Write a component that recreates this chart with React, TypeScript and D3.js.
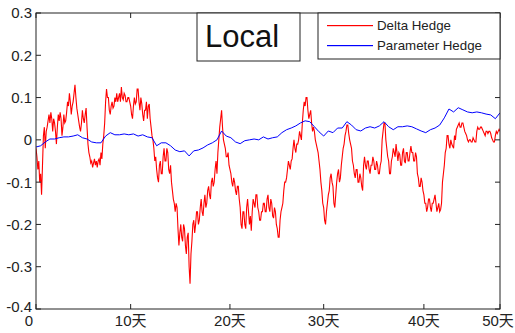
import React from 'react';
import * as d3 from 'd3';

// Hedging error of the delta hedge, one sample every 0.1 position units
const deltaHedge: number[] = [
  -0.02, -0.04, -0.07, -0.05, -0.1, -0.08, -0.13, -0.06, 0.01, 0.03,
  -0.02, 0.02, 0.03, 0.045, 0.06, 0.04, 0.065, 0.05, 0.02, 0.05,
  0.04, 0.02, -0.01, 0.03, 0.06, 0.045, 0.065, 0.05, 0.01, 0.03,
  0.06, 0.04, 0.045, 0.065, 0.09, 0.08, 0.11, 0.09, 0.06, 0.08,
  0.09, 0.11, 0.13, 0.1, 0.075, 0.06, 0.045, 0.03, 0.02, 0.04,
  0.07, 0.05, 0.04, 0.06, 0.075, 0.03, -0.01, -0.03, -0.04, -0.055,
  -0.05, -0.065, -0.055, -0.045, -0.06, -0.05, -0.065, -0.05, -0.045, -0.06,
  -0.03, -0.045, -0.01, 0.01, 0.04, 0.09, 0.12, 0.1, 0.1, 0.07,
  0.06, 0.08, 0.09, 0.075, 0.08, 0.1, 0.09, 0.11, 0.09, 0.1,
  0.11, 0.09, 0.125, 0.1, 0.095, 0.11, 0.105, 0.09, 0.09, 0.1,
  0.1, 0.09, 0.08, 0.06, 0.05, 0.08, 0.1, 0.085, 0.09, 0.12,
  0.12, 0.09, 0.07, 0.1, 0.085, 0.06, 0.045, 0.07, 0.07, 0.09,
  0.05, 0.08, 0.085, 0.05, 0.03, 0.01, 0.0, -0.02, -0.05, -0.04,
  -0.07, -0.09, -0.1, -0.06, -0.05, -0.08, -0.08, -0.04, -0.02, -0.05,
  -0.05, -0.02, -0.03, -0.07, -0.08, -0.06, -0.1, -0.12, -0.14, -0.15,
  -0.17, -0.15, -0.16, -0.21, -0.25, -0.22, -0.2, -0.23, -0.24, -0.2,
  -0.21, -0.25, -0.27, -0.23, -0.22, -0.3, -0.34, -0.27, -0.24, -0.2,
  -0.19, -0.22, -0.2, -0.17, -0.17, -0.2, -0.19, -0.16, -0.14, -0.17,
  -0.18, -0.15, -0.13, -0.16, -0.15, -0.12, -0.11, -0.13, -0.14, -0.1,
  -0.09, -0.11, -0.1, -0.07, -0.05, -0.08, -0.03, 0.0, 0.03, 0.05,
  0.07, 0.03, 0.0, -0.01, -0.02, -0.04, -0.04, -0.03, -0.06, -0.07,
  -0.08, -0.1, -0.11, -0.09, -0.1, -0.12, -0.13, -0.11, -0.11, -0.14,
  -0.16, -0.2, -0.21, -0.17, -0.17, -0.2, -0.21, -0.16, -0.14, -0.17,
  -0.2, -0.18, -0.215, -0.17, -0.14, -0.15, -0.16, -0.13, -0.13, -0.16,
  -0.17, -0.19, -0.19, -0.17, -0.17, -0.15, -0.15, -0.17, -0.17, -0.14,
  -0.13, -0.16, -0.17, -0.14, -0.15, -0.18, -0.185, -0.16, -0.17, -0.2,
  -0.21, -0.23, -0.23, -0.19, -0.17, -0.16, -0.15, -0.12, -0.1, -0.1,
  -0.09, -0.07, -0.05, -0.06, -0.07, -0.05, -0.045, -0.02, 0.0, -0.02,
  -0.03, -0.01, -0.01, 0.0, 0.02, 0.01, 0.0, 0.04, 0.07, 0.09,
  0.08, 0.1, 0.1, 0.07, 0.05, 0.06, 0.07, 0.04, 0.02, 0.03,
  0.02, 0.0, -0.01, -0.02, -0.03, -0.05, -0.07, -0.1, -0.12, -0.15,
  -0.16, -0.19, -0.2, -0.17, -0.15, -0.13, -0.12, -0.09, -0.08, -0.1,
  -0.11, -0.15, -0.16, -0.13, -0.1, -0.08, -0.07, -0.1, -0.09, -0.06,
  -0.04, -0.02, -0.01, 0.01, 0.02, 0.035, 0.035, 0.015, 0.0, -0.01,
  -0.02, -0.05, -0.06, -0.08, -0.09, -0.07, -0.07, -0.1, -0.1, -0.08,
  -0.09, -0.11, -0.12, -0.06, -0.04, -0.06, -0.07, -0.05, -0.05, -0.07,
  -0.08, -0.06, -0.06, -0.04, -0.05, -0.07, -0.07, -0.05, -0.06, -0.08,
  -0.08, -0.06, -0.05, 0.0, 0.02, 0.04, 0.04, 0.0, -0.02, -0.04,
  -0.05, -0.08, -0.08, -0.05, -0.04, -0.02, -0.03, -0.04, -0.01, -0.03,
  -0.05, -0.03, -0.035, -0.06, -0.06, -0.03, -0.02, -0.05, -0.055, -0.03,
  -0.03, -0.05, -0.05, -0.03, -0.015, -0.03, -0.03, -0.05, -0.05, -0.03,
  -0.04, -0.08, -0.09, -0.11, -0.11, -0.09, -0.1, -0.12, -0.13, -0.15,
  -0.15, -0.17, -0.16, -0.14, -0.14, -0.16, -0.17, -0.15, -0.15, -0.14,
  -0.13, -0.15, -0.17, -0.16, -0.15, -0.17, -0.165, -0.15, -0.1, -0.08,
  -0.06, -0.03, -0.02, 0.01, 0.01, -0.01, -0.02, 0.0, -0.01, -0.015,
  -0.02, 0.01, 0.0, 0.025, 0.03, 0.035, 0.04, 0.03, 0.03, 0.04,
  0.04, 0.03, 0.02, 0.015, 0.01, 0.0, -0.005, 0.0, 0.0, -0.005,
  -0.005, 0.005, 0.0, -0.005, -0.005, 0.02, 0.03, 0.025, 0.025, 0.03,
  0.03, 0.025, 0.02, 0.015, 0.01, 0.02, 0.02, 0.015, 0.02, 0.02,
  0.015, 0.005, 0.0, -0.005, -0.005, 0.01, 0.02, 0.015, 0.02, 0.025,
  0.02,
];
const deltaStep = 0.1;

// Hedging error of the parameter hedge, one sample every 0.5 position units
const parameterHedge: number[] = [
  -0.017, -0.014, -0.005, 0.002, 0.002, 0.005, 0.007, 0.007, 0.009, 0.012,
  0.005, 0.002, -0.005, -0.007, -0.007, 0.009, 0.017, 0.012, 0.012, 0.014,
  0.012, 0.014, 0.009, 0.012, 0.007, 0.005, -0.014, -0.007, -0.007, -0.014,
  -0.024, -0.028, -0.026, -0.038, -0.026, -0.024, -0.019, -0.012, -0.007, 0.0,
  0.021, 0.009, 0.005, -0.005, -0.009, -0.002, 0.0, 0.002, 0.0, 0.007,
  0.002, 0.005, 0.007, 0.017, 0.024, 0.028, 0.033, 0.04, 0.045, 0.043,
  0.031, 0.019, 0.009, 0.021, 0.017, 0.028, 0.028, 0.043, 0.035, 0.024,
  0.021, 0.028, 0.031, 0.028, 0.033, 0.043, 0.031, 0.024, 0.031, 0.031,
  0.033, 0.031, 0.026, 0.021, 0.017, 0.024, 0.028, 0.035, 0.052, 0.073,
  0.066, 0.076, 0.071, 0.066, 0.064, 0.066, 0.064, 0.061, 0.059, 0.05,
  0.064,
];
const paramStep = 0.5;

const xTickPos = [0, 10.2, 20.9, 31.0, 41.8, 50];
const xTickLabels = ['0', '10天', '20天', '30天', '40天', '50天'];
const yTickValues = [0.3, 0.2, 0.1, 0, -0.1, -0.2, -0.3, -0.4];
const seriesNames = ['Delta Hedge', 'Parameter Hedge'];
const seriesColors = ['#ff0000', '#0000ff'];
const titleText = 'Local';

const W = 515;
const H = 333;
const L = 36, R = 500, T = 13, B = 309;
const font = '"Liberation Sans", Arial, "Noto Sans CJK SC", sans-serif';

export default function App() {
  const x = d3.scaleLinear().domain([0, 50]).range([L, R]);
  const y = d3.scaleLinear().domain([-0.4, 0.3]).range([B, T]);

  const deltaLine = d3.line<number>()
    .x((_, i) => x(i * deltaStep))
    .y((d) => y(d));
  const paramLine = d3.line<number>()
    .x((_, i) => x(i * paramStep))
    .y((d) => y(d));

  const tick = 5;
  const fmt = (v: number) => (Math.abs(v) < 1e-9 ? '0' : String(+v.toFixed(1)));
  const legendY = [25, 45];

  return (
    <svg
      width={W}
      height={H}
      style={{ position: 'absolute', left: 0, top: 0, background: '#fff' }}
      fontFamily={font}
    >
      <defs>
        <clipPath id="plotClip">
          <rect x={L} y={T} width={R - L} height={B - T} />
        </clipPath>
      </defs>
      <rect x={0} y={0} width={W} height={H} fill="#fff" />

      <g clipPath="url(#plotClip)">
        <path d={deltaLine(deltaHedge) || ''} fill="none" stroke={seriesColors[0]} strokeWidth={1.1} />
        <path d={paramLine(parameterHedge) || ''} fill="none" stroke={seriesColors[1]} strokeWidth={1} />
      </g>

      {/* axes box */}
      <rect x={L} y={T} width={R - L} height={B - T} fill="none" stroke="#222" strokeWidth={1} />

      {/* y ticks on both sides */}
      {yTickValues.map((v) => (
        <g key={'y' + v}>
          <line x1={L} x2={L + tick} y1={y(v)} y2={y(v)} stroke="#222" />
          <line x1={R} x2={R - tick} y1={y(v)} y2={y(v)} stroke="#222" />
          <text x={32} y={y(v) - (v === -0.4 ? 2 : 0)} dy="0.36em" textAnchor="end" fontSize={15} fill="#222">
            {fmt(v)}
          </text>
        </g>
      ))}

      {/* x ticks on bottom and top */}
      {xTickPos.map((p, i) => (
        <g key={'x' + i}>
          <line x1={x(p)} x2={x(p)} y1={B} y2={B - tick} stroke="#222" />
          <line x1={x(p)} x2={x(p)} y1={T} y2={T + tick} stroke="#222" />
          <text
            x={i === 0 ? x(p) - 3 : i === xTickPos.length - 1 ? x(p) - 2 : x(p)}
            y={325.5}
            textAnchor={i === 0 ? 'end' : 'middle'}
            fontSize={15}
            fill="#222"
          >
            {xTickLabels[i]}
          </text>
        </g>
      ))}

      {/* title box */}
      <rect x={197} y={T} width={103} height={48} fill="#fff" stroke="#222" />
      <text x={205} y={47} fontSize={31} fill="#111">
        {titleText}
      </text>

      {/* legend */}
      <rect x={318} y={T} width={R - 318} height={46} fill="#fff" stroke="#222" />
      {seriesNames.map((name, i) => (
        <g key={name}>
          <rect x={327} y={legendY[i]} width={46} height={1.2} fill={seriesColors[i]} />
          <text x={377} y={legendY[i] + 0.5} dy="0.36em" fontSize={13.3} fill="#222">
            {name}
          </text>
        </g>
      ))}
    </svg>
  );
}
